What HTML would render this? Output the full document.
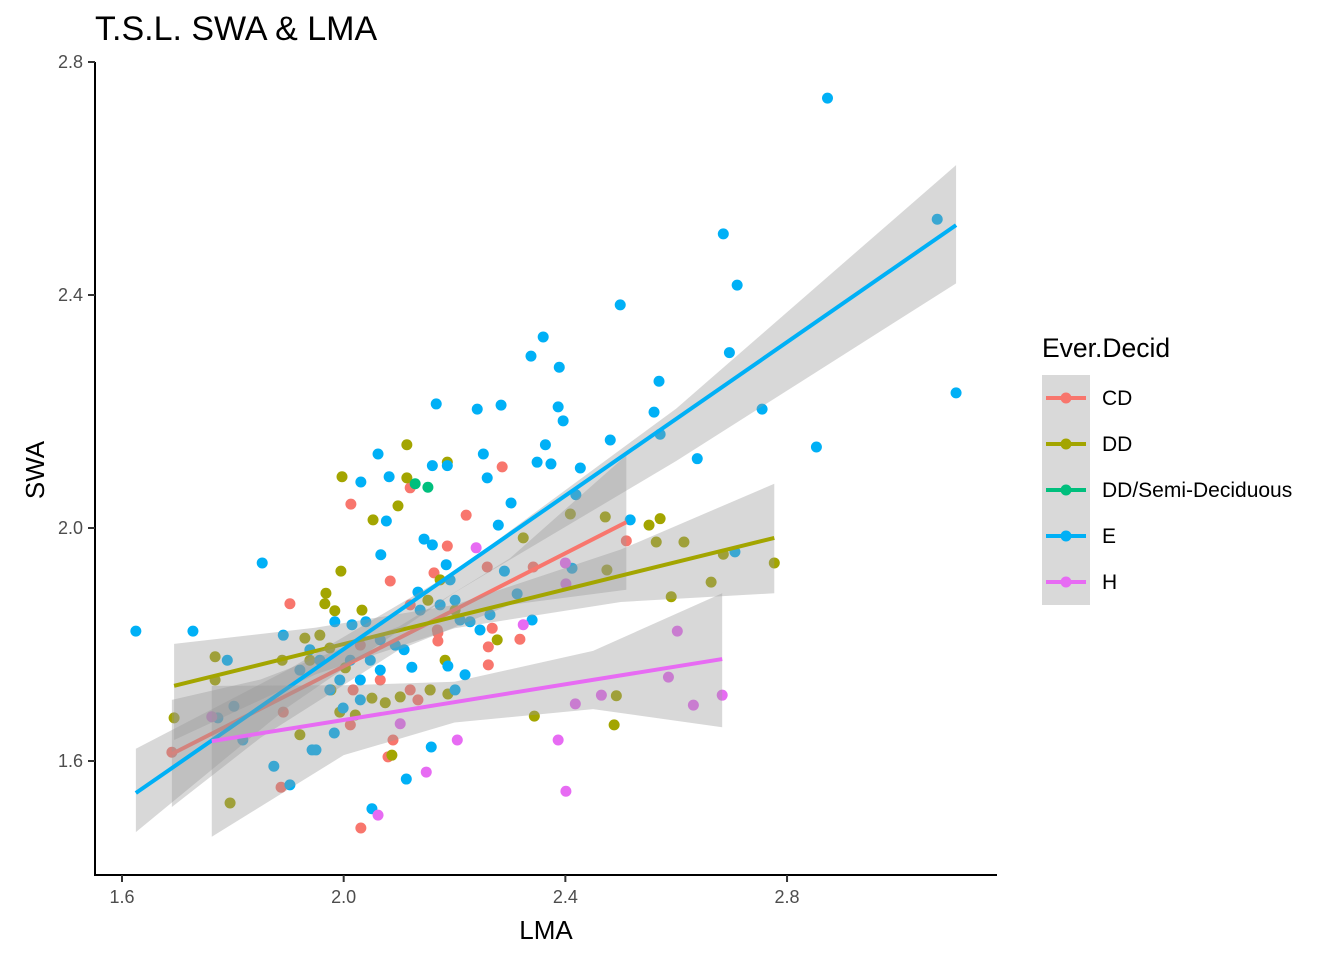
<!DOCTYPE html>
<html><head><meta charset="utf-8"><style>
body{margin:0;background:#fff;}
svg text{font-family:"Liberation Sans",Arial,sans-serif;}
</style></head><body>
<svg id="chart" width="1344" height="960" xmlns="http://www.w3.org/2000/svg">
<rect width="1344" height="960" fill="#fff"/>
<text x="95" y="40" font-size="34" fill="#000">T.S.L. SWA &amp; LMA</text>
<g id="points"></g>
<g id="smooth"></g>
<g id="axes">
<line x1="95" y1="62" x2="95" y2="876" stroke="#000" stroke-width="2"/>
<line x1="94" y1="875" x2="997" y2="875" stroke="#000" stroke-width="2"/>
</g>
<text x="546" y="939" font-size="26" text-anchor="middle">LMA</text>
<text transform="translate(44,470) rotate(-90)" font-size="26" text-anchor="middle">SWA</text>
<g>
<text x="1042" y="357" font-size="26.5">Ever.Decid</text>
<rect x="1042" y="375" width="48" height="230" fill="#d9d9d9"/>
<g id="legendItems"></g>
</g>
</svg>
<script>
const xTicks=[1.6,2.0,2.4,2.8];
const yTicks=[1.6,2.0,2.4,2.8];
const groups=["CD","DD","DD/Semi-Deciduous","E","H"];
const colors=["#F8766D","#A3A500","#00BF7D","#00B0F6","#E76BF3"];
const ptsCD=[[1.903,1.870],[1.690,1.615],[1.887,1.555],[2.013,2.041],[2.084,1.909],[2.120,2.069],[2.163,1.923],[2.187,1.969],[2.221,2.022],[2.286,2.105],[2.170,1.820],[2.170,1.806],[2.120,1.722],[2.156,1.722],[2.080,1.607],[2.089,1.636],[2.031,1.485],[2.012,1.662],[2.030,1.799],[2.066,1.739],[2.134,1.705],[2.261,1.796],[2.268,1.828],[2.261,1.765],[2.318,1.809],[2.342,1.933],[2.510,1.978],[2.093,1.799],[2.017,1.722],[1.891,1.684],[2.120,1.868],[2.169,1.825],[2.259,1.933]];
const ptsDD=[[1.997,2.088],[1.995,1.926],[1.968,1.888],[1.966,1.870],[1.984,1.858],[2.033,1.859],[2.114,2.143],[2.114,2.086],[2.053,2.014],[2.098,2.038],[2.187,2.113],[1.768,1.779],[1.768,1.739],[1.694,1.674],[1.795,1.528],[1.889,1.773],[1.930,1.811],[1.957,1.816],[1.921,1.645],[1.977,1.722],[1.975,1.794],[2.003,1.760],[2.021,1.679],[2.051,1.708],[2.075,1.700],[2.102,1.710],[2.087,1.610],[2.156,1.722],[2.183,1.773],[2.201,1.859],[2.277,1.808],[2.324,1.983],[2.344,1.677],[2.409,2.024],[2.472,2.019],[2.475,1.928],[2.488,1.662],[2.492,1.712],[2.551,2.005],[2.571,2.016],[2.564,1.976],[2.591,1.882],[2.614,1.976],[2.663,1.907],[2.685,1.955],[2.777,1.940],[1.993,1.684],[2.188,1.715],[2.152,1.876],[2.174,1.911],[1.939,1.773]];
const ptsSemi=[[2.129,2.076],[2.152,2.070]];
const ptsE=[[1.625,1.823],[1.728,1.823],[1.853,1.940],[2.873,2.738],[3.071,2.530],[3.105,2.232],[2.685,2.505],[2.710,2.417],[2.696,2.301],[2.755,2.204],[2.853,2.139],[2.638,2.119],[2.706,1.959],[2.499,2.383],[2.569,2.252],[2.560,2.199],[2.571,2.161],[2.481,2.151],[2.360,2.328],[2.338,2.295],[2.389,2.276],[2.387,2.208],[2.396,2.184],[2.364,2.143],[2.374,2.110],[2.349,2.113],[2.427,2.103],[2.419,2.057],[2.412,1.931],[2.517,2.014],[2.284,2.211],[2.241,2.204],[2.167,2.213],[2.252,2.127],[2.259,2.086],[2.302,2.043],[2.279,2.005],[2.062,2.127],[2.031,2.079],[2.160,2.107],[2.187,2.107],[2.077,2.012],[2.067,1.954],[2.145,1.981],[2.160,1.971],[2.185,1.937],[2.134,1.890],[2.290,1.926],[2.313,1.887],[2.340,1.842],[2.082,2.088],[1.891,1.816],[1.790,1.773],[1.802,1.694],[1.773,1.674],[1.818,1.636],[1.874,1.591],[1.903,1.559],[1.943,1.619],[1.984,1.839],[2.015,1.834],[2.040,1.839],[2.030,1.739],[2.109,1.791],[2.123,1.761],[2.188,1.763],[2.219,1.748],[2.201,1.722],[2.158,1.624],[2.113,1.569],[2.051,1.518],[1.983,1.648],[1.999,1.691],[1.957,1.773],[1.921,1.756],[2.012,1.773],[2.048,1.773],[2.093,1.799],[2.066,1.756],[2.030,1.705],[1.975,1.722],[1.993,1.739],[2.138,1.859],[2.174,1.868],[2.210,1.842],[2.246,1.825],[2.264,1.851],[2.228,1.839],[2.201,1.876],[2.192,1.911],[2.066,1.808],[1.939,1.791],[1.950,1.619]];
const ptsH=[[2.239,1.966],[2.324,1.834],[2.400,1.940],[2.401,1.904],[2.387,1.636],[2.401,1.548],[2.418,1.698],[2.465,1.713],[2.586,1.744],[2.602,1.823],[2.631,1.696],[2.683,1.713],[2.149,1.581],[2.062,1.507],[2.205,1.636],[2.102,1.664],[1.762,1.676]];
const fitCD_x=[1.690,2.510], fitCD_y=[1.612,2.010];
const bandCD_x=[1.69,1.85,2.1,2.3,2.51], bandCD_hi=[1.705,1.74,1.831,1.948,2.125], bandCD_lo=[1.521,1.64,1.791,1.868,1.894];
const fitDD_x=[1.694,2.777], fitDD_y=[1.729,1.983];
const bandDD_x=[1.694,1.95,2.2,2.5,2.777], bandDD_hi=[1.801,1.829,1.868,1.963,2.076], bandDD_lo=[1.636,1.749,1.828,1.873,1.888];
const fitE_x=[1.625,3.105], fitE_y=[1.545,2.520];
const bandE_x=[1.625,1.9,2.2,2.6,3.105], bandE_hi=[1.621,1.757,1.925,2.205,2.623], bandE_lo=[1.478,1.693,1.889,2.115,2.420];
const fitH_x=[1.762,2.683], fitH_y=[1.634,1.775];
const bandH_x=[1.762,2.0,2.2,2.45,2.683], bandH_hi=[1.729,1.73,1.736,1.789,1.888], bandH_lo=[1.470,1.61,1.666,1.689,1.658];

const NS="http://www.w3.org/2000/svg";
function sx(v){return 122+(v-1.6)*554.2;}
function sy(v){return 761-(v-1.6)*582.5;}
function mk(t,a,p){const e=document.createElementNS(NS,t);for(const k in a)e.setAttribute(k,a[k]);p.appendChild(e);return e;}
const axes=document.getElementById('axes');
xTicks.forEach(t=>{
  const l=mk('line',{x1:sx(t),x2:sx(t),y1:875,y2:882,stroke:'#333','stroke-width':2},axes);
  
  
  const tx=mk('text',{x:sx(t),y:903,'font-size':18,fill:'#4d4d4d','text-anchor':'middle'},axes);
  tx.textContent=t.toFixed(1);
  
  
});
yTicks.forEach(t=>{
  const l=mk('line',{x1:88,x2:95,y1:sy(t),y2:sy(t),stroke:'#333','stroke-width':2},axes);
  
  
  const tx=mk('text',{x:83,y:sy(t)+6,'font-size':18,fill:'#4d4d4d','text-anchor':'end'},axes);
  tx.textContent=t.toFixed(1);
  
  
});
const pg=document.getElementById('points');
[ptsCD,ptsDD,ptsSemi,ptsE,ptsH].forEach((arr,gi)=>{
  arr.forEach(p=>{
    const c=mk('circle',{cx:sx(p[0]),cy:sy(p[1]),r:5.5,fill:colors[gi]},pg);
    
    
  });
});
const sg=document.getElementById('smooth');
const fits=[[bandCD_x,bandCD_hi,bandCD_lo,fitCD_x,fitCD_y,0],[bandDD_x,bandDD_hi,bandDD_lo,fitDD_x,fitDD_y,1],[bandE_x,bandE_hi,bandE_lo,fitE_x,fitE_y,3],[bandH_x,bandH_hi,bandH_lo,fitH_x,fitH_y,4]];
fits.forEach(f=>{
  const [bx,bh,bl,lx,ly,gi]=f;
  let pts=bx.map((x,i)=>sx(x)+','+sy(bh[i]));
  for(let i=bx.length-1;i>=0;i--)pts.push(sx(bx[i])+','+sy(bl[i]));
  const b=mk('polygon',{points:pts.join(' '),fill:'#999999','fill-opacity':0.38},sg);
  
  
  const l=mk('line',{x1:sx(lx[0]),y1:sy(ly[0]),x2:sx(lx[1]),y2:sy(ly[1]),stroke:colors[gi],'stroke-width':4},sg);
  
  
});
const lg=document.getElementById('legendItems');
groups.forEach((g,i)=>{
  const cy=398+i*46;
  const l=mk('line',{x1:1046,x2:1086,y1:cy,y2:cy,stroke:colors[i],'stroke-width':4},lg);
  
  
  const c=mk('circle',{cx:1066,cy:cy,r:5.5,fill:colors[i]},lg);
  
  
  const t=mk('text',{x:1102,y:cy+7,'font-size':21,fill:'#000'},lg);
  t.textContent=g;
  
  
});
</script>
</body></html>
